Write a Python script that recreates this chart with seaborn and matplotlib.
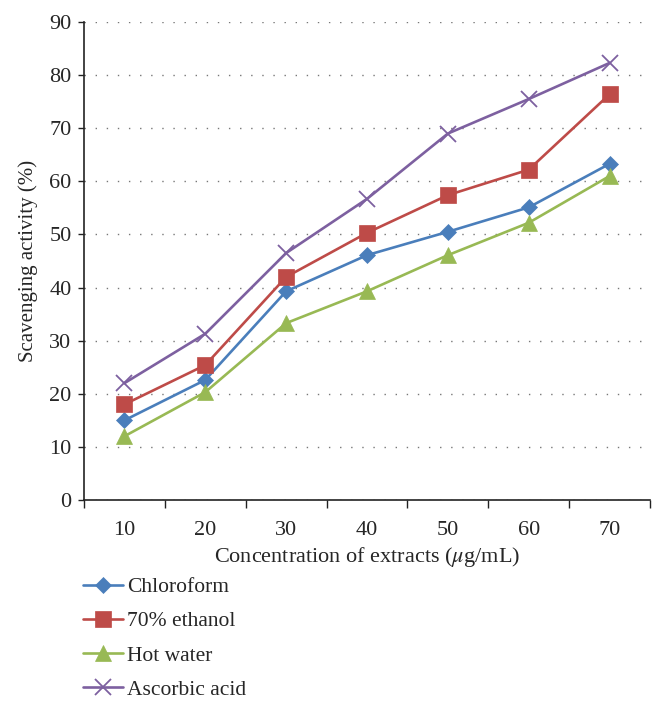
import pandas as pd
import matplotlib.pyplot as plt
import seaborn as sns
from matplotlib.ticker import FixedLocator, NullFormatter

# Data
concentrations = ["10", "20", "30", "40", "50", "60", "70"]
chloroform = [15.0, 22.6, 39.3, 46.1, 50.5, 55.1, 63.3]
ethanol_70 = [18.0, 25.4, 42.0, 50.3, 57.4, 62.2, 76.4]
hot_water = [12.0, 20.3, 33.3, 39.3, 46.1, 52.2, 61.0]
ascorbic_acid = [22.0, 31.3, 46.5, 56.7, 69.0, 75.5, 82.3]

series_names = ["Chloroform", "70% ethanol", "Hot water", "Ascorbic acid"]
series_values = [chloroform, ethanol_70, hot_water, ascorbic_acid]
colors = ["#4A7EBB", "#BE4B48", "#98B954", "#7D60A0"]
markers = ["D", "s", "^", "x"]
marker_sizes = [8.5, 11, 11, 12]

sns.set_style("white")
plt.rcParams['font.family'] = ['Liberation Serif', 'DejaVu Serif']
plt.rcParams['mathtext.fontset'] = 'stix'

fig = plt.figure(figsize=(6.64, 7.10), dpi=100)
ax = fig.add_axes([0.1265, 0.2958, 0.979 - 0.1265, 0.969 - 0.2958])

positions = list(range(len(concentrations)))
for name, vals, col, mk, ms in zip(series_names, series_values, colors, markers, marker_sizes):
    df = pd.DataFrame({"pos": positions, "val": vals})
    sns.lineplot(data=df, x="pos", y="val", ax=ax, color=col, marker=mk,
                 markersize=ms, linewidth=1.9, markeredgewidth=1.3 if mk == "x" else 0.5,
                 markeredgecolor=col, label=name, legend=False)

ax.set_xlim(-0.5, len(concentrations) - 0.5)
ax.set_ylim(0, 90)
ax.set_yticks(range(0, 91, 10))
ax.yaxis.grid(True, linestyle=(0, (1, 7)), color="#777777", linewidth=1.0)
ax.xaxis.grid(False)

# category boundaries as tick marks, labels centred in between
ax.xaxis.set_major_locator(FixedLocator([p - 0.5 for p in positions] + [positions[-1] + 0.5]))
ax.xaxis.set_major_formatter(NullFormatter())
ax.xaxis.set_minor_locator(FixedLocator(positions))
ax.set_xticklabels(concentrations, minor=True)
ax.tick_params(axis="x", which="major", direction="out", length=6, width=1, color="#222222", bottom=True)
ax.tick_params(axis="x", which="minor", length=0, labelsize=16, pad=15)
ax.tick_params(axis="y", direction="out", length=4, width=1, color="#222222", left=True,
               labelsize=16, pad=5)

for s in ["top", "right"]:
    ax.spines[s].set_visible(False)
for s in ["left", "bottom"]:
    ax.spines[s].set_color("#222222")
    ax.spines[s].set_linewidth(1.2)

ax.set_xlabel(r"Concentration of extracts ($\mu$g/mL)", fontsize=16, labelpad=4)
ax.set_ylabel("Scavenging activity (%)", fontsize=15, labelpad=8)

handles, labels = ax.get_legend_handles_labels()
fig.legend(handles, labels, loc="upper left", bbox_to_anchor=(83 / 664, 1 - 577 / 710),
           frameon=False, fontsize=15.5, handlelength=1.85, handletextpad=0.2,
           labelspacing=0.66, borderaxespad=0, borderpad=0)

fig.savefig("out.png", dpi=100)
